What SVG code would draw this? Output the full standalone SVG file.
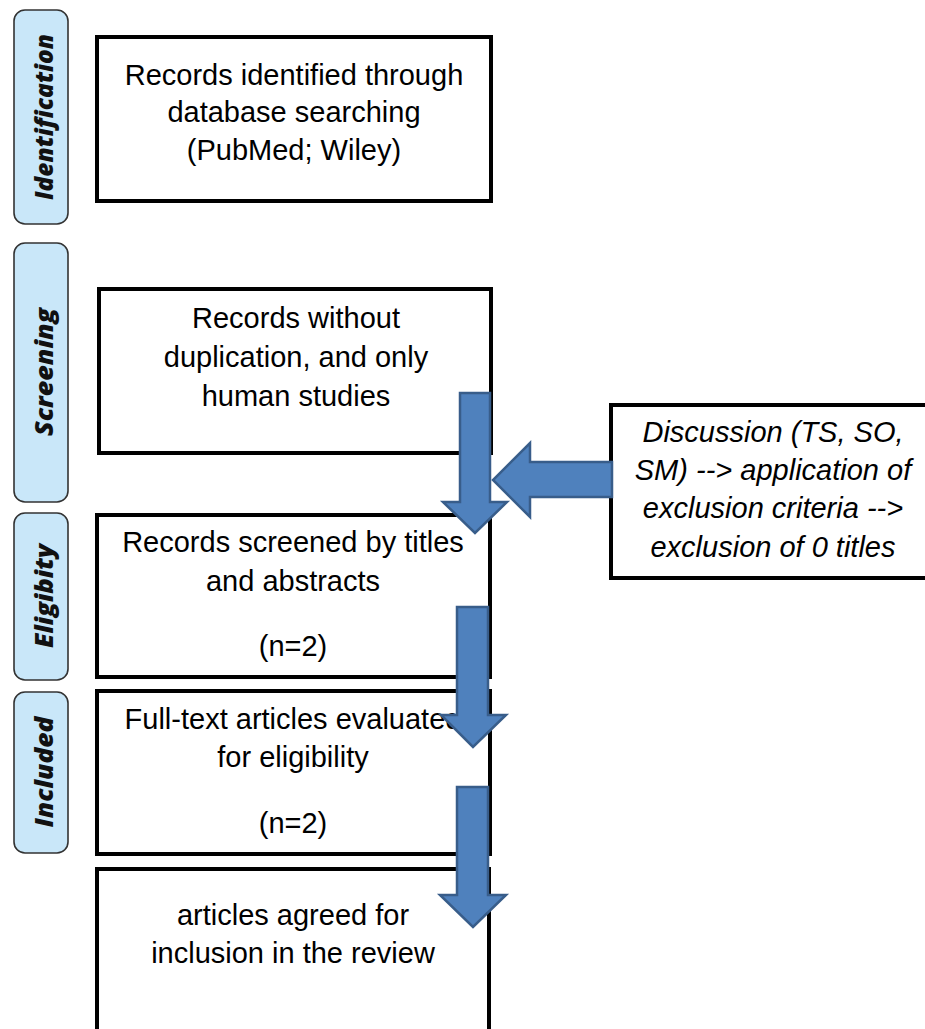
<svg xmlns="http://www.w3.org/2000/svg" width="925" height="1029" viewBox="0 0 925 1029">
<style>
.phase rect{fill:#c9e7f9;stroke:#333;stroke-width:1.6}
.phase text{font-family:"Open Sans",sans-serif;font-weight:800;font-style:italic;font-size:25px;fill:#111;text-anchor:middle}
.box rect{fill:#fff;stroke:#000;stroke-width:4}
.box text{font-family:"Liberation Sans",Arial,sans-serif;font-size:29px;fill:#000;text-anchor:middle}
.side text{font-style:italic}
.arrow{fill:#4f81bd;stroke:#385d8a;stroke-width:2.5;stroke-linejoin:miter}
</style>
<rect width="925" height="1029" fill="#fff"/>
<g id="phase-identification" class="phase">
<rect x="14" y="10" width="54" height="214" rx="11"/>
<text transform="translate(53,117) rotate(-90)" textLength="166" lengthAdjust="spacingAndGlyphs">Identification</text>
</g>
<g id="phase-screening" class="phase">
<rect x="14" y="243" width="54" height="259" rx="11"/>
<text transform="translate(53,372) rotate(-90)" textLength="128" lengthAdjust="spacingAndGlyphs">Screening</text>
</g>
<g id="phase-eligibility" class="phase">
<rect x="14" y="513" width="54" height="167" rx="11"/>
<text transform="translate(53,596) rotate(-90)" textLength="104" lengthAdjust="spacingAndGlyphs">Eligibity</text>
</g>
<g id="phase-included" class="phase">
<rect x="14" y="692" width="54" height="161" rx="11"/>
<text transform="translate(53,772) rotate(-90)" textLength="111" lengthAdjust="spacingAndGlyphs">Included</text>
</g>
<g id="box-identified" class="box">
<rect x="97" y="37" width="394" height="164"/>
<text x="294" y="85">Records identified through</text>
<text x="294" y="122">database searching</text>
<text x="294" y="160">(PubMed; Wiley)</text>
</g>
<g id="box-screening" class="box">
<rect x="99" y="289" width="392" height="164"/>
<text x="296" y="328">Records without</text>
<text x="296" y="367">duplication, and only</text>
<text x="296" y="406">human studies</text>
</g>
<g id="box-eligibility" class="box">
<rect x="97" y="515" width="393" height="162"/>
<text x="293" y="552">Records screened by titles</text>
<text x="293" y="591">and abstracts</text>
<text x="293" y="656">(n=2)</text>
</g>
<g id="box-fulltext" class="box">
<rect x="97" y="691" width="393" height="163"/>
<text x="293" y="729">Full-text articles evaluated</text>
<text x="293" y="767">for eligibility</text>
<text x="293" y="833">(n=2)</text>
</g>
<g id="box-included" class="box">
<rect x="97" y="869" width="392" height="200"/>
<text x="293" y="925">articles agreed for</text>
<text x="293" y="963">inclusion in the review</text>
</g>
<g id="box-discussion" class="box side">
<rect x="611" y="405" width="330" height="173"/>
<text x="773" y="442">Discussion (TS, SO,</text>
<text x="773" y="480">SM) --&gt; application of</text>
<text x="773" y="518">exclusion criteria --&gt;</text>
<text x="773" y="557">exclusion of 0 titles</text>
</g>
<g id="connectors">
<polygon class="arrow" points="460,393 490,393 490,502 507,502 475,533 443,502 460,502"/>
<polygon class="arrow" points="612,462 530,462 530,443 493,480 530,517 530,497 612,497"/>
<polygon class="arrow" points="457,607 488,607 488,715 506,715 473,747 441,715 457,715"/>
<polygon class="arrow" points="457,787 488,787 488,895 506,895 473,927 440,895 457,895"/>
</g>
</svg>
